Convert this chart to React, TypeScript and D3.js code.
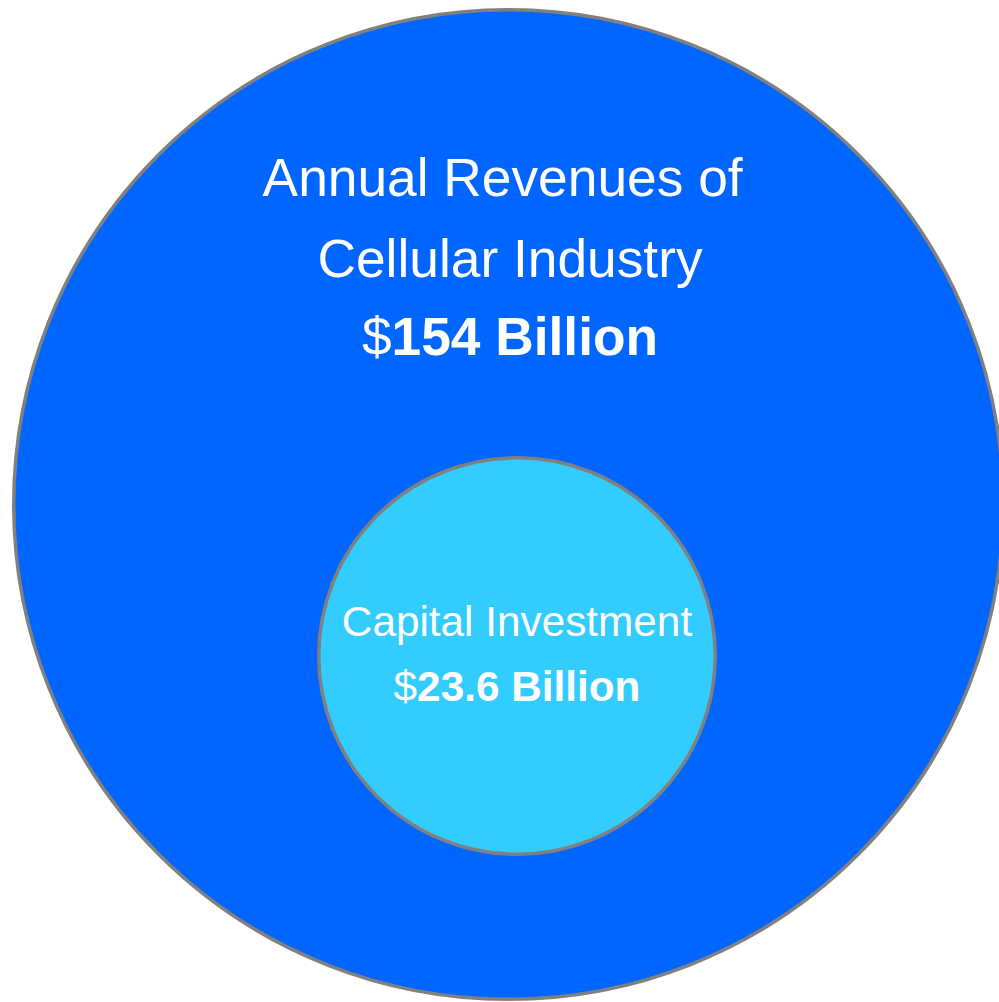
import React from "react";
import * as d3 from "d3";

const labels = ["Annual Revenues of Cellular Industry", "Capital Investment"];
const values = [154, 23.6];
const titleLines = [["Annual Revenues of ", "Cellular Industry"], ["Capital Investment"]];
const valuePrefix = ["$", "$"];
const valueText = ["154 Billion", "23.6 Billion"];
const fills = ["#0066FF", "#33CCFF"];

const W = 999;
const H = 1002;

export default function App() {
  const r = d3.scalePow().exponent(0.4876).domain([0, d3.max(values) as number]).range([0, 494.75]);
  const cx = [508.5, 517];
  const cy = [504.5, 656];
  const font = "'Liberation Sans', Arial, Helvetica, sans-serif";
  const textSpecs = [
    { x: 510, firstBaseline: 196, lineGap: 80.5, size: 53.3 },
    { x: 517, firstBaseline: 636, lineGap: 65, size: 42.3 },
  ];
  return (
    <svg
      width={W}
      height={H}
      style={{ position: "absolute", left: 0, top: 0, background: "#ffffff" }}
    >
      {values.map((v, i) => (
        <circle
          key={labels[i]}
          cx={cx[i]}
          cy={cy[i]}
          r={r(v)}
          fill={fills[i]}
          stroke="#808080"
          strokeWidth={3.5}
        />
      ))}
      {values.map((v, i) => {
        const s = textSpecs[i];
        const lines = titleLines[i];
        return (
          <g key={"t" + i} fill="#ffffff" fontFamily={font} fontSize={s.size} textAnchor="middle">
            {lines.map((ln, j) => (
              <text key={j} x={s.x} y={s.firstBaseline + j * s.lineGap} style={{ whiteSpace: "pre" }}>
                {ln}
              </text>
            ))}
            <text x={s.x} y={s.firstBaseline + lines.length * s.lineGap - (i === 0 ? 2 : 0)}>
              <tspan>{valuePrefix[i]}</tspan>
              <tspan fontWeight="bold">{valueText[i]}</tspan>
            </text>
          </g>
        );
      })}
    </svg>
  );
}
